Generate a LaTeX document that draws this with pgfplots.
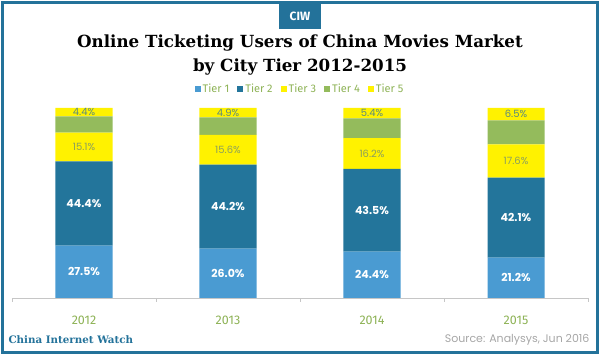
\documentclass[border=0pt]{standalone}
\usepackage{pgfplots}
\pgfplotsset{compat=1.18}
\usepackage{fontspec}
\setmainfont{Poppins}
\newfontfamily\titlefont{DejaVu Serif}
\newfontfamily\legfont{Fira Sans}
\definecolor{tone}{HTML}{4A9BD2}
\definecolor{ttwo}{HTML}{23759B}
\definecolor{tthree}{HTML}{FFF200}
\definecolor{tfour}{HTML}{94BB5C}
\definecolor{framec}{HTML}{23729A}
\definecolor{lgreen}{HTML}{8DB255}
\definecolor{lthree}{HTML}{8A9E5E}
\definecolor{lfive}{HTML}{5A8A7E}
\begin{document}
\begin{tikzpicture}
\path[use as bounding box] (0pt,0pt) rectangle (600pt,355pt);
\draw[framec, line width=3pt] (2.5pt,2.5pt) rectangle (597.5pt,352.5pt);
\fill[framec] (279pt,326pt) rectangle (321pt,353pt);
\node[text=white, font=\legfont\bfseries\fontsize{12}{12}\selectfont] at (300pt,339pt) {CIW};
\node[font=\titlefont\bfseries\fontsize{16.7}{16.7}\selectfont, text=black] at (300pt,312pt) {Online Ticketing Users of China Movies Market};
\node[font=\titlefont\bfseries\fontsize{16.7}{16.7}\selectfont, text=black] at (300pt,288pt) {by City Tier 2012-2015};
\node[anchor=west, font=\titlefont\bfseries\fontsize{10.3}{10.3}\selectfont, text=framec] at (5pt,15pt) {China Internet Watch};
\node[anchor=east, font=\fontsize{11}{11}\selectfont, text=gray!70] at (593pt,15pt) {Source: Analysys, Jun 2016};
\begin{axis}[
  at={(12pt,57pt)}, anchor=south west,
  scale only axis, width=576pt, height=190pt,
  ybar stacked, bar width=57pt,
  xmin=-0.5, xmax=3.5, ymin=0, ymax=100,
  axis y line=none, axis x line*=bottom,
  x axis line style={draw=gray!45},
  xtick={0,1,2,3}, xticklabels={2012,2013,2014,2015},
  major tick length=0pt,
  minor xtick={-0.5,0.5,1.5,2.5,3.5}, minor tick length=4pt,
  tick align=outside, minor x tick style={draw=gray!45},
  xticklabel style={font=\legfont\fontsize{12.5}{12.5}\selectfont, text=lgreen, yshift=-14pt},
  legend columns=5,
  legend image code/.code={\fill[#1] (0pt,-3pt) rectangle (6pt,3pt);},
  legend style={draw=none, fill=none, at={(0.5,1)}, anchor=center, yshift=19pt,
    font=\legfont\fontsize{11}{11}\selectfont, text=lgreen,
    /tikz/every even column/.append style={column sep=6pt}},
]
\addplot[fill=tone, draw=none] coordinates {(0,27.5) (1,26.0) (2,24.4) (3,21.2)};
\addlegendentry{Tier 1}
\addplot[fill=ttwo, draw=none] coordinates {(0,44.4) (1,44.2) (2,43.5) (3,42.1)};
\addlegendentry{Tier 2}
\addplot[fill=tthree, draw=none] coordinates {(0,15.1) (1,15.6) (2,16.2) (3,17.6)};
\addlegendentry{Tier 3}
\addplot[fill=tfour, draw=none] coordinates {(0,8.6) (1,9.3) (2,10.5) (3,12.6)};
\addlegendentry{Tier 4}
\addplot[fill=tthree, draw=none] coordinates {(0,4.4) (1,4.9) (2,5.4) (3,6.5)};
\addlegendentry{Tier 5}
\end{axis}
\begin{axis}[
  at={(12pt,57pt)}, anchor=south west,
  scale only axis, width=576pt, height=190pt,
  xmin=-0.5, xmax=3.5, ymin=0, ymax=100, hide axis,
  nodes near coords, point meta=explicit symbolic,
  every node near coord/.append style={anchor=center},
]
\addplot[draw=none, mark=none, nodes near coords style={text=white, font=\bfseries\fontsize{11}{11}\selectfont}]
  coordinates {(0,13.75) [27.5\%] (1,13.0) [26.0\%] (2,12.2) [24.4\%] (3,10.6) [21.2\%]};
\addplot[draw=none, mark=none, nodes near coords style={text=white, font=\bfseries\fontsize{11}{11}\selectfont}]
  coordinates {(0,49.7) [44.4\%] (1,48.1) [44.2\%] (2,46.15) [43.5\%] (3,42.25) [42.1\%]};
\addplot[draw=none, mark=none, nodes near coords style={text=lthree, font=\fontsize{10}{10}\selectfont}]
  coordinates {(0,79.45) [15.1\%] (1,78.0) [15.6\%] (2,76.0) [16.2\%] (3,72.1) [17.6\%]};
\addplot[draw=none, mark=none, nodes near coords style={text=lfive, font=\fontsize{10}{10}\selectfont}]
  coordinates {(0,97.8) [4.4\%] (1,97.55) [4.9\%] (2,97.3) [5.4\%] (3,96.75) [6.5\%]};
\end{axis}
\end{tikzpicture}
\end{document}
